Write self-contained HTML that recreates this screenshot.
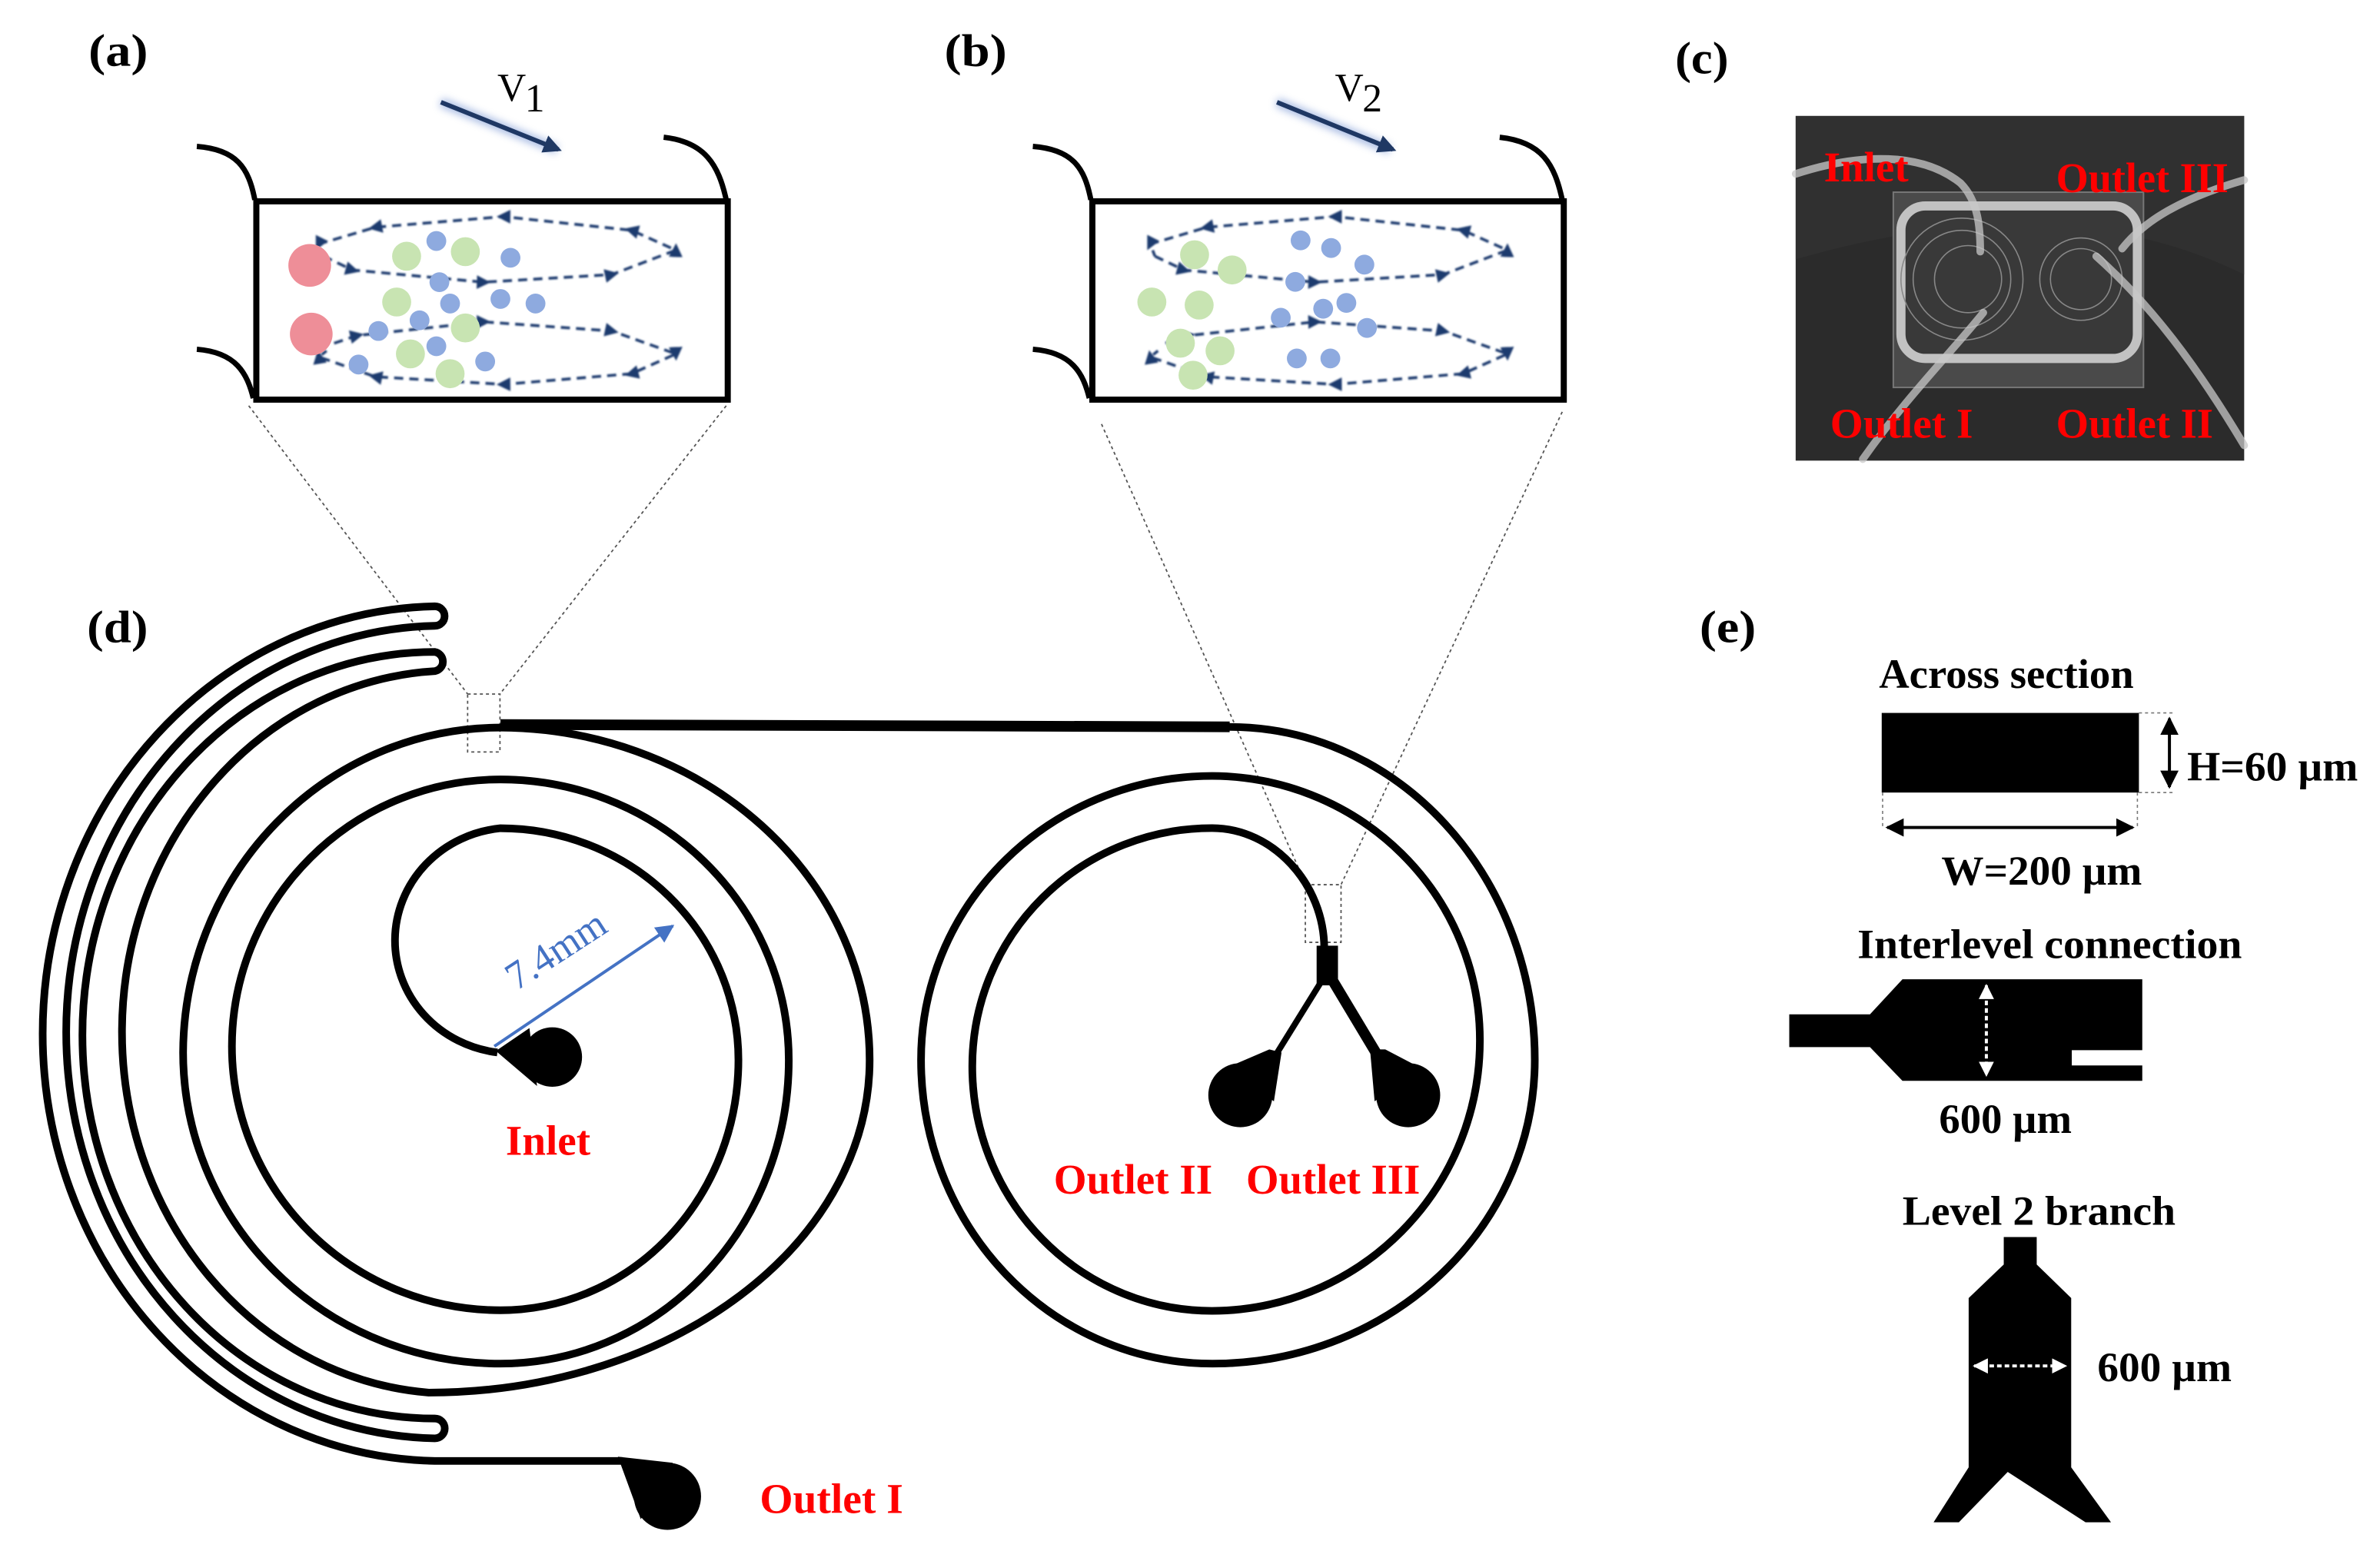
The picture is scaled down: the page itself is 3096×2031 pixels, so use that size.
<!DOCTYPE html>
<html><head><meta charset="utf-8">
<style>
html,body{margin:0;padding:0;background:#fff;}
svg{display:block;}
.lbl{font-family:"Liberation Serif",serif;font-weight:bold;font-size:30px;fill:#000;}
.red{font-family:"Liberation Serif",serif;font-weight:bold;font-size:28px;fill:#ff0000;}
.blk{font-family:"Liberation Serif",serif;font-weight:bold;font-size:27px;fill:#000;}
.v{font-family:"Liberation Serif",serif;font-size:26px;fill:#000;}
</style></head>
<body>
<svg width="3096" height="2031" viewBox="0 0 1560 1023.4" xmlns="http://www.w3.org/2000/svg">
<defs>
<marker id="ah" viewBox="0 0 10 10" refX="5" refY="5" markerWidth="5" markerHeight="5" orient="auto">
<path d="M0,0 L10,5 L0,10 Z" fill="#1f3a6e"/></marker>
<marker id="av" viewBox="0 0 10 10" refX="8" refY="5" markerWidth="4" markerHeight="4" orient="auto">
<path d="M0,0 L10,5 L0,10 Z" fill="#1f3864"/></marker>
<marker id="bk" viewBox="0 0 10 10" refX="9" refY="5" markerWidth="6" markerHeight="6" orient="auto-start-reverse">
<path d="M0,0 L10,5 L0,10 Z" fill="#000"/></marker>
<marker id="wh" viewBox="0 0 10 10" refX="9" refY="5" markerWidth="5" markerHeight="5" orient="auto-start-reverse">
<path d="M0,0 L10,5 L0,10 Z" fill="#fff"/></marker>
<marker id="bl" viewBox="0 0 10 10" refX="9" refY="5" markerWidth="6" markerHeight="6" orient="auto">
<path d="M0,0 L10,5 L0,10 Z" fill="#4472c4"/></marker>
<filter id="glow" x="-20%" y="-50%" width="140%" height="200%"><feGaussianBlur stdDeviation="2.5"/></filter>
<filter id="soft"><feGaussianBlur stdDeviation="0.6"/></filter>
<g id="upper">
<polyline points="212,168 231,177 317,185 401,180 443,164 414,151 330,142 246,149 209,160 212,168" fill="none" stroke="#1f3a6e" stroke-width="1.8" stroke-dasharray="6,4" marker-mid="url(#ah)"/>
<polyline points="219,225 234,220 317,211 401,217 443,232 414,245 330,252 246,247 209,234 214,230" fill="none" stroke="#1f3a6e" stroke-width="1.8" stroke-dasharray="6,4" marker-mid="url(#ah)"/>
</g>
</defs>

<!-- labels -->
<text class="lbl" x="58" y="43" textLength="39" lengthAdjust="spacingAndGlyphs">(a)</text>
<text class="lbl" x="619" y="43" textLength="41" lengthAdjust="spacingAndGlyphs">(b)</text>
<text class="lbl" x="1098" y="48" textLength="35" lengthAdjust="spacingAndGlyphs">(c)</text>
<text class="lbl" x="57" y="421" textLength="40" lengthAdjust="spacingAndGlyphs">(d)</text>
<text class="lbl" x="1114" y="421" textLength="37" lengthAdjust="spacingAndGlyphs">(e)</text>

<!-- (a) -->
<line x1="289" y1="67" x2="365" y2="98" stroke="#6f8fd0" stroke-width="6" filter="url(#glow)" opacity="0.6"/>
<line x1="289" y1="67" x2="366" y2="98" stroke="#1f3864" stroke-width="3" marker-end="url(#av)"/>
<text class="v" x="326" y="66">V</text><text class="v" x="344" y="73" font-size="16">1</text>
<path d="M129,96 C155,98 163,110 167,131" fill="none" stroke="#000" stroke-width="3.5"/>
<path d="M435,90 C462,93 471,108 476,131" fill="none" stroke="#000" stroke-width="3.5"/>
<path d="M129,229 C155,231 162,245 166,261" fill="none" stroke="#000" stroke-width="3.5"/>
<rect x="168" y="132" width="309" height="130" fill="#fff" stroke="#000" stroke-width="4"/>
<use href="#upper" filter="url(#soft)"/>
<g fill="#ee8e98"><ellipse cx="203" cy="174" rx="14" ry="14"/><ellipse cx="204" cy="219" rx="14" ry="14"/></g>
<g fill="#c8e4b2">
<circle cx="266.5" cy="168" r="9.5"/><circle cx="305" cy="165" r="9.5"/><circle cx="260" cy="198" r="9.5"/>
<circle cx="305" cy="215" r="9.5"/><circle cx="269" cy="232" r="9.5"/><circle cx="295" cy="245" r="9.5"/></g>
<g fill="#8eaadf">
<circle cx="286" cy="158" r="6.5"/><circle cx="334.6" cy="169" r="6.5"/><circle cx="288" cy="185" r="6.5"/>
<circle cx="295" cy="199" r="6.5"/><circle cx="328" cy="196" r="6.5"/><circle cx="351" cy="199" r="6.5"/>
<circle cx="275" cy="210" r="6.5"/><circle cx="248" cy="217" r="6.5"/><circle cx="286" cy="227" r="6.5"/>
<circle cx="235" cy="239" r="6.5"/><circle cx="318" cy="237" r="6.5"/></g>

<!-- (b) -->
<line x1="837" y1="67" x2="911" y2="98" stroke="#6f8fd0" stroke-width="6" filter="url(#glow)" opacity="0.6"/>
<line x1="837" y1="67" x2="913" y2="98" stroke="#1f3864" stroke-width="3" marker-end="url(#av)"/>
<text class="v" x="875" y="66">V</text><text class="v" x="893" y="73" font-size="16">2</text>
<path d="M677,96 C703,98 711,110 715,131" fill="none" stroke="#000" stroke-width="3.5"/>
<path d="M983,90 C1011,93 1019,108 1024,131" fill="none" stroke="#000" stroke-width="3.5"/>
<path d="M677,229 C703,231 710,245 714,261" fill="none" stroke="#000" stroke-width="3.5"/>
<rect x="716" y="132" width="309" height="130" fill="#fff" stroke="#000" stroke-width="4"/>
<use href="#upper" transform="translate(545,0)" filter="url(#soft)"/>
<g fill="#c8e4b2">
<circle cx="783" cy="167" r="9.5"/><circle cx="807.6" cy="177" r="9.5"/><circle cx="755" cy="198" r="9.5"/>
<circle cx="786" cy="200" r="9.5"/><circle cx="773.7" cy="225" r="9.5"/><circle cx="799.7" cy="230" r="9.5"/><circle cx="782" cy="246" r="9.5"/></g>
<g fill="#8eaadf">
<circle cx="852.5" cy="157.6" r="6.5"/><circle cx="872.5" cy="162.6" r="6.5"/><circle cx="894.3" cy="173.5" r="6.5"/>
<circle cx="849" cy="184.8" r="6.5"/><circle cx="882.5" cy="198.6" r="6.5"/><circle cx="867.3" cy="202.4" r="6.5"/>
<circle cx="839.5" cy="208.3" r="6.5"/><circle cx="896" cy="215" r="6.5"/><circle cx="850" cy="235" r="6.5"/><circle cx="872" cy="235" r="6.5"/></g>

<!-- zoom lines -->
<g stroke="#555" stroke-width="0.9" stroke-dasharray="2,2" fill="none">
<line x1="163" y1="266" x2="306.5" y2="455"/>
<line x1="476" y1="266" x2="327.7" y2="455"/>
<line x1="722" y1="278" x2="856" y2="580"/>
<line x1="1024" y1="270" x2="879" y2="580"/>
<rect x="306.5" y="455" width="21.2" height="38"/>
<rect x="855.6" y="580" width="23.4" height="37.8"/>
</g>

<!-- (c) photo -->
<rect x="1177" y="76" width="294" height="226" fill="#2b2b2b"/>
<path d="M1177,76 L1471,76 L1471,180 Q1350,120 1177,170 Z" fill="#333" opacity="0.6"/>
<rect x="1241" y="126" width="164" height="128" fill="#4a4a4a" stroke="#777" stroke-width="1"/>
<rect x="1246" y="135" width="155" height="100" rx="16" fill="#383838" stroke="#cfcfcf" stroke-width="6" opacity="0.9"/>
<g fill="none" stroke="#888" stroke-width="0.8">
<circle cx="1286" cy="183" r="40"/><circle cx="1286" cy="183" r="32"/><circle cx="1290" cy="183" r="22"/>
<circle cx="1364" cy="183" r="27"/><circle cx="1364" cy="183" r="20"/></g>
<g fill="none" stroke="#c8c8c8" stroke-width="5" opacity="0.75" stroke-linecap="round">
<path d="M1177,114 C1220,100 1260,100 1285,120 C1297,132 1298,150 1298,165"/>
<path d="M1221,301 C1250,260 1280,230 1300,205"/>
<path d="M1471,118 C1430,130 1405,145 1391,163"/>
<path d="M1374,168 C1410,200 1440,240 1471,292"/>
</g>
<text class="red" x="1195.5" y="119" textLength="55.5" lengthAdjust="spacingAndGlyphs">Inlet</text>
<text class="red" x="1347.7" y="126" textLength="113" lengthAdjust="spacingAndGlyphs">Outlet III</text>
<text class="red" x="1199.6" y="287" textLength="93.6" lengthAdjust="spacingAndGlyphs">Outlet I</text>
<text class="red" x="1347.7" y="287" textLength="103" lengthAdjust="spacingAndGlyphs">Outlet II</text>

<!-- (d) left spiral -->
<path d="M326,690 A77,74 0 0 1 328,543 A156,152 0 0 1 484,695 A156,164 0 0 1 328,859 A176,173 0 0 1 152,686 A176,175 0 0 1 328,511 A189,184 0 0 1 517,695 A189,199 0 0 1 328,894 A208,204 0 0 1 120,690 A208,214 0 0 1 328,477 A243,218 0 0 1 570,695 A289,218 0 0 1 281,913 A217,237 0 0 1 285,440 A6.4,6.4 0 0 0 285,427.4 A231,251.3 0 0 0 285,930 A6.5,6.5 0 0 1 285,943 A246.4,266.4 0 0 1 285,410.3 A6.4,6.4 0 0 0 285,397.5 A262,280.2 0 0 0 285,957.8 L408,957.8" fill="none" stroke="#000" stroke-width="5"/>
<circle cx="362" cy="693" r="19.5" fill="#000"/>
<polygon points="325,689 347,674 352,712" fill="#000"/>
<circle cx="437.5" cy="981" r="22" fill="#000"/>
<polygon points="405,955 441,959 420,996" fill="#000"/>
<line x1="324" y1="686" x2="441" y2="607" stroke="#4472c4" stroke-width="2" marker-end="url(#bl)"/>
<text x="369" y="630" font-family="Liberation Serif, serif" font-size="26" fill="#4472c4" text-anchor="middle" transform="rotate(-33 369 630)">7.4mm</text>
<text class="red" x="331.5" y="757" textLength="55.5" lengthAdjust="spacingAndGlyphs">Inlet</text>
<text class="red" x="498" y="992" textLength="94" lengthAdjust="spacingAndGlyphs">Outlet I</text>

<!-- connecting line -->
<line x1="328" y1="475" x2="806" y2="476.5" stroke="#000" stroke-width="7"/>

<!-- right spiral -->
<path d="M805,476.6 A200,218 0 0 1 1006,695 A211,199 0 0 1 794.5,894 A191,199 0 0 1 603.7,695 A191,186 0 0 1 794.5,508.7 A176,173 0 0 1 970,682 A176,177 0 0 1 794.5,859.4 A157,160 0 0 1 637.3,699 A157,156 0 0 1 794.5,542.9 C835,543 868,580 868,622" fill="none" stroke="#000" stroke-width="5"/>
<rect x="863" y="620" width="14" height="26" fill="#000"/>
<line x1="867" y1="642" x2="836" y2="692" stroke="#000" stroke-width="4"/>
<line x1="873" y1="642" x2="903" y2="692" stroke="#000" stroke-width="7"/>
<circle cx="813" cy="718" r="21" fill="#000"/>
<polygon points="832,688 840,690 835,722 804,700" fill="#000"/>
<circle cx="923" cy="718" r="21" fill="#000"/>
<polygon points="898,688 908,688 931,700 901,722" fill="#000"/>
<text class="red" x="690.7" y="782.5" textLength="104" lengthAdjust="spacingAndGlyphs">Outlet II</text>
<text class="red" x="816.8" y="782.5" textLength="114" lengthAdjust="spacingAndGlyphs">Outlet III</text>

<!-- (e) -->
<text class="blk" x="1231.6" y="451" textLength="167" lengthAdjust="spacingAndGlyphs">Across section</text>
<rect x="1233.4" y="467.4" width="168.6" height="52.2" fill="#000"/>
<g stroke="#777" stroke-width="0.8" stroke-dasharray="2,2" fill="none">
<line x1="1402" y1="467.4" x2="1424" y2="467.4"/><line x1="1402" y1="519.6" x2="1424" y2="519.6"/>
<line x1="1234" y1="519.6" x2="1234" y2="543"/><line x1="1401" y1="519.6" x2="1401" y2="543"/>
</g>
<line x1="1422" y1="471" x2="1422" y2="516" stroke="#000" stroke-width="2" marker-start="url(#bk)" marker-end="url(#bk)"/>
<line x1="1237" y1="542.5" x2="1398" y2="542.5" stroke="#000" stroke-width="2" marker-start="url(#bk)" marker-end="url(#bk)"/>
<text class="blk" x="1433.6" y="511.6" textLength="112" lengthAdjust="spacingAndGlyphs">H=60 µm</text>
<text class="blk" x="1272.5" y="580" textLength="131.5" lengthAdjust="spacingAndGlyphs">W=200 µm</text>
<text class="blk" x="1217.5" y="628" textLength="252" lengthAdjust="spacingAndGlyphs">Interlevel connection</text>
<path d="M1172.8,665 L1225.7,665 L1247,642 L1404.2,642 L1404.2,688.5 L1358,688.5 L1358,698.5 L1404.2,698.5 L1404.2,708.6 L1247,708.6 L1225.7,686.5 L1172.8,686.5 Z" fill="#000"/>
<line x1="1302" y1="646" x2="1302" y2="705" stroke="#fff" stroke-width="2" stroke-dasharray="3,2" marker-start="url(#wh)" marker-end="url(#wh)"/>
<text class="blk" x="1271" y="742.7" textLength="87" lengthAdjust="spacingAndGlyphs">600 µm</text>
<text class="blk" x="1247" y="803" textLength="179" lengthAdjust="spacingAndGlyphs">Level 2 branch</text>
<path d="M1313.4,811 L1335,811 L1335,829 L1357.6,851 L1357.6,962 L1383.7,998 L1367,998 L1316,965 L1284,998 L1267.4,998 L1290.4,962 L1290.4,851 L1313.4,829 Z" fill="#000"/>
<line x1="1294" y1="895.5" x2="1354" y2="895.5" stroke="#fff" stroke-width="2" stroke-dasharray="3,2" marker-start="url(#wh)" marker-end="url(#wh)"/>
<text class="blk" x="1374.8" y="905.6" textLength="88" lengthAdjust="spacingAndGlyphs">600 µm</text>
</svg>
</body></html>
